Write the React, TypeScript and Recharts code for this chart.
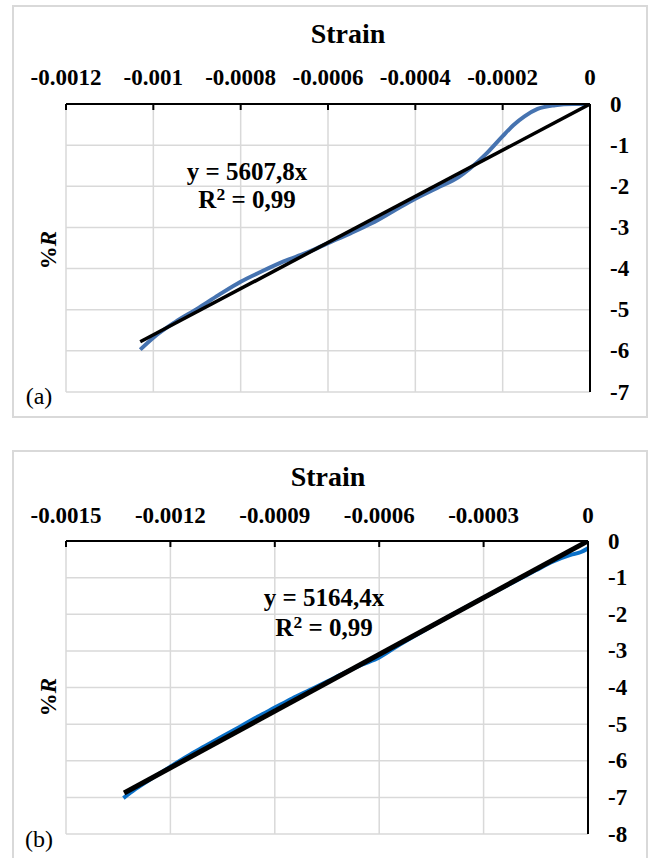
import React from 'react';
import { ComposedChart, Line, XAxis, YAxis, CartesianGrid } from 'recharts';

// ---------- Data (a) ----------
const topStrain = [0, -0.00004, -0.00008, -0.00012, -0.00015, -0.000175, -0.0002, -0.000235, -0.000274, -0.0003, -0.00035, -0.0004, -0.00045, -0.0005, -0.00055, -0.0006, -0.00065, -0.0007, -0.00075, -0.0008, -0.00085, -0.0009, -0.00095, -0.001, -0.00103];
const topR = [0, 0, -0.03, -0.12, -0.3, -0.51, -0.78, -1.18, -1.56, -1.77, -2.04, -2.3, -2.6, -2.9, -3.15, -3.38, -3.62, -3.82, -4.06, -4.32, -4.64, -4.98, -5.3, -5.68, -5.97];
const topTrendStrain = [0, -0.00103];
const topTrendR = [0, -5.78];
const topXTicks = [-0.0012, -0.001, -0.0008, -0.0006, -0.0004, -0.0002, 0];
const topYTicks = [0, -1, -2, -3, -4, -5, -6, -7];

// ---------- Data (b) ----------
const botStrain = [0, -0.00002, -0.00005, -0.0001, -0.00015, -0.0002, -0.00025, -0.0003, -0.00035, -0.0004, -0.00045, -0.0005, -0.00055, -0.0006, -0.00065, -0.0007, -0.00075, -0.0008, -0.00085, -0.0009, -0.00095, -0.001, -0.00105, -0.0011, -0.00115, -0.0012, -0.00125, -0.0013, -0.001335];
const botR = [-0.2, -0.3, -0.38, -0.56, -0.8, -1.05, -1.3, -1.55, -1.8, -2.06, -2.33, -2.6, -2.88, -3.18, -3.38, -3.6, -3.84, -4.07, -4.3, -4.55, -4.8, -5.07, -5.33, -5.6, -5.87, -6.16, -6.46, -6.77, -7.02];
const botTrendStrain = [0, -0.001333];
const botTrendR = [0, -6.88];
const botXTicks = [-0.0015, -0.0012, -0.0009, -0.0006, -0.0003, 0];
const botYTicks = [0, -1, -2, -3, -4, -5, -6, -7, -8];

const zip = (xs: number[], ys: number[]) => xs.map((x, i) => ({ x, y: ys[i] }));

const FONT = '"Liberation Serif", "Times New Roman", serif';

type PanelProps = {
  top: number;
  height: number;
  margin: { top: number; right: number; bottom: number; left: number };
  xTicks: number[];
  yTicks: number[];
  data: { x: number; y: number }[];
  trend: { x: number; y: number }[];
  dataColor: string;
  trendWidth: number;
  xLabelY: number;
  axisY: number;
  yLabelX: number;
};

function Panel(p: PanelProps) {
  const XTick = (props: any) => {
    const { x, payload } = props;
    return (
      <g>
        <text x={x} y={p.xLabelY} textAnchor="middle" dominantBaseline="central" fontFamily={FONT} fontWeight="bold" fontSize={23} fill="#000">
          {String(payload.value)}
        </text>
        <line x1={x} x2={x} y1={p.axisY} y2={p.axisY + 6} stroke="#000" strokeWidth={2} />
      </g>
    );
  };
  const YTick = (props: any) => {
    const { y, payload } = props;
    return (
      <text x={p.yLabelX} y={y} textAnchor="start" dominantBaseline="central" fontFamily={FONT} fontWeight="bold" fontSize={23} fill="#000">
        {String(payload.value)}
      </text>
    );
  };
  const xMin = p.xTicks[0];
  const yMin = p.yTicks[p.yTicks.length - 1];
  return (
    <div style={{ position: 'absolute', left: 0, top: p.top }}>
      <ComposedChart width={651} height={p.height} margin={p.margin}>
        <CartesianGrid stroke="#d9d9d9" strokeWidth={1.5} />
        <XAxis
          type="number"
          dataKey="x"
          orientation="top"
          domain={[xMin, 0]}
          ticks={p.xTicks}
          interval={0}
          allowDataOverflow
          height={30}
          axisLine={{ stroke: '#000', strokeWidth: 2 }}
          tickLine={false}
          tick={XTick}
        />
        <YAxis
          type="number"
          dataKey="y"
          orientation="right"
          domain={[yMin, 0]}
          ticks={p.yTicks}
          interval={0}
          allowDataOverflow
          width={50}
          axisLine={{ stroke: '#000', strokeWidth: 2 }}
          tickLine={false}
          tick={YTick}
        />
        <Line data={p.data} dataKey="y" type="monotone" stroke={p.dataColor} strokeWidth={4} dot={false} activeDot={false} isAnimationActive={false} />
        <Line data={p.trend} dataKey="y" type="linear" stroke="#000" strokeWidth={p.trendWidth} dot={false} activeDot={false} isAnimationActive={false} />
      </ComposedChart>
    </div>
  );
}

const abs = (left: number, top: number, extra: React.CSSProperties = {}): React.CSSProperties => ({
  position: 'absolute',
  left,
  top,
  transform: 'translate(-50%, -50%)',
  whiteSpace: 'nowrap',
  fontFamily: FONT,
  color: '#000',
  lineHeight: 1,
  ...extra,
});

function Eq({ x, y, slope, r2, gap }: { x: number; y: number; slope: string; r2: string; gap: number }) {
  return (
    <>
      <div style={abs(x, y, { fontWeight: 'bold', fontSize: 25 })}>{`y = ${slope}x`}</div>
      <div style={abs(x, y + gap, { fontWeight: 'bold', fontSize: 25 })}>
        R<span style={{ fontSize: '0.7em', position: 'relative', top: '-0.45em' }}>2</span> = {r2}
      </div>
    </>
  );
}

export default function App() {
  return (
    <div style={{ position: 'absolute', left: 0, top: 0, width: 651, height: 858, background: '#fff', overflow: 'hidden' }}>
      <div style={{ position: 'absolute', left: 12, top: 5, width: 636, height: 413, border: '2px solid #d9d9d9', boxSizing: 'border-box' }} />
      <div style={{ position: 'absolute', left: 12, top: 450, width: 636, height: 420, border: '2px solid #d9d9d9', boxSizing: 'border-box' }} />

      <Panel
        top={0}
        height={430}
        margin={{ top: 74, right: 11, bottom: 38, left: 66 }}
        xTicks={topXTicks}
        yTicks={topYTicks}
        data={zip(topStrain, topR)}
        trend={zip(topTrendStrain, topTrendR)}
        dataColor="#4673b0"
        trendWidth={3.5}
        xLabelY={77}
        axisY={104}
        yLabelX={610}
      />
      <Panel
        top={440}
        height={418}
        margin={{ top: 71, right: 13, bottom: 24, left: 66 }}
        xTicks={botXTicks}
        yTicks={botYTicks}
        data={zip(botStrain, botR)}
        trend={zip(botTrendStrain, botTrendR)}
        dataColor="#0a70c8"
        trendWidth={5}
        xLabelY={75}
        axisY={101}
        yLabelX={608}
      />

      <div style={abs(348, 34, { fontWeight: 'bold', fontSize: 28 })}>Strain</div>
      <div style={abs(328, 477, { fontWeight: 'bold', fontSize: 28 })}>Strain</div>

      <div style={abs(48, 250, { fontWeight: 'bold', fontSize: 23, transform: 'translate(-50%, -50%) rotate(-90deg)' })}>
        %<i>R</i>
      </div>
      <div style={abs(48, 697, { fontWeight: 'bold', fontSize: 23, transform: 'translate(-50%, -50%) rotate(-90deg)' })}>
        %<i>R</i>
      </div>

      <div style={abs(39, 396, { fontSize: 24 })}>(a)</div>
      <div style={abs(39, 839, { fontSize: 24 })}>(b)</div>

      <Eq x={247} y={171} slope="5607,8" r2="0,99" gap={28} />
      <Eq x={324} y={597} slope="5164,4" r2="0,99" gap={30} />
    </div>
  );
}
